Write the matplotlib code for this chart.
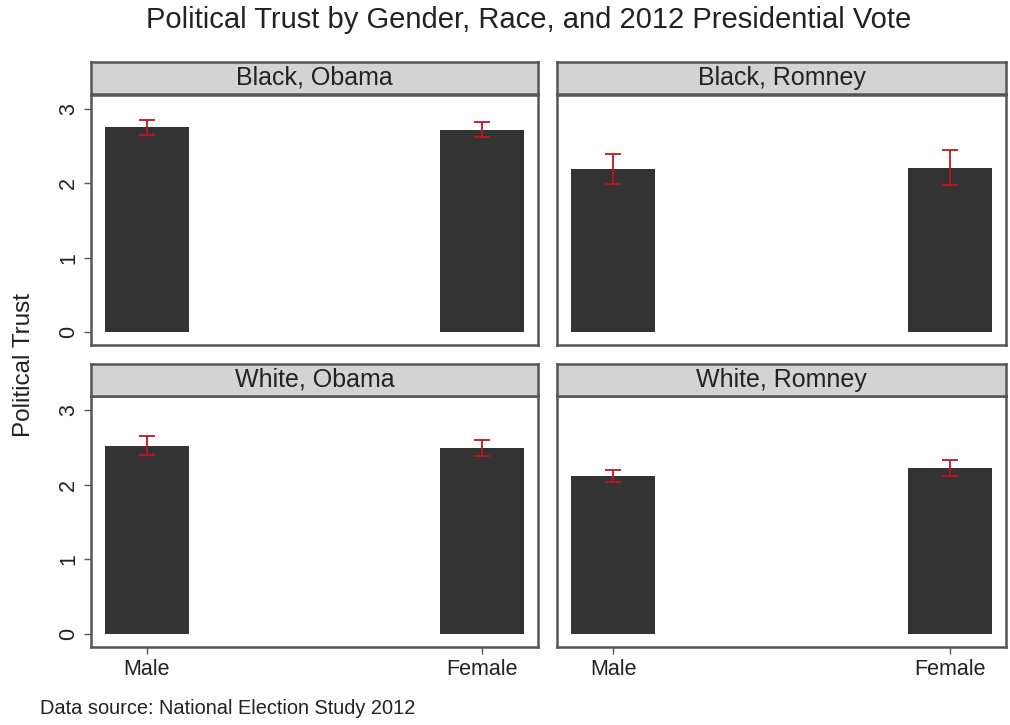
import matplotlib.pyplot as plt

# panel data
panels = ["Black, Obama", "Black, Romney", "White, Obama", "White, Romney"]
genders = ["Male", "Female"]
means = [
	[2.75, 2.72],
	[2.19, 2.21],
	[2.52, 2.49],
	[2.12, 2.22],
]
errs = [
	[0.10, 0.10],
	[0.20, 0.23],
	[0.13, 0.11],
	[0.08, 0.11],
]
yticks = [0, 1, 2, 3]

W, H = 1010, 725
BAR_COLOR = "#333333"
ERR_COLOR = "#c0141e"
FRAME = "#555555"
STRIP = "#d3d3d3"
FONT = "Liberation Sans"

plt.rcParams["font.family"] = FONT


def px_box(x0, y0, x1, y1):
	# pixel box (top-left origin) -> figure fraction rect
	return [x0 / W, 1 - y1 / H, (x1 - x0) / W, (y1 - y0) / H]


fig = plt.figure(figsize = (W / 100, H / 100), dpi = 100)

cols = [(91, 538), (557, 1006)]
rows = [(95, 345), (396, 647)]
strips = [(62, 94), (364, 396)]

for k in range(4):
	i, j = k // 2, k % 2
	x0, x1 = cols[j]
	y0, y1 = rows[i]
	ax = fig.add_axes(px_box(x0, y0, x1, y1))
	ax.bar([1, 2], means[k], width = 0.25, color = BAR_COLOR)
	ax.errorbar([1, 2], means[k], yerr = errs[k], fmt = "none",
		ecolor = ERR_COLOR, elinewidth = 1.3, capsize = 6, capthick = 1.3)
	ax.set_xlim(0.833, 2.167)
	ax.set_ylim(-0.175, 3.185)
	for s in ax.spines.values():
		s.set_color(FRAME)
		s.set_linewidth(1.8)
	ax.tick_params(length = 5, width = 1, direction = "out",
		colors = "#555555", labelcolor = "#222222")
	if i == 1:
		ax.set_xticks([1, 2])
		ax.set_xticklabels(genders, fontsize = 15.5)
	else:
		ax.set_xticks([])
	if j == 0:
		ax.set_yticks(yticks)
		ax.set_yticklabels([str(t) for t in yticks], fontsize = 15.5,
			rotation = 90, va = "center")
	else:
		ax.set_yticks([])

	sy0, sy1 = strips[i]
	sax = fig.add_axes(px_box(x0, sy0, x1, sy1))
	sax.set_facecolor(STRIP)
	sax.set_xticks([])
	sax.set_yticks([])
	for s in sax.spines.values():
		s.set_color(FRAME)
		s.set_linewidth(1.8)
	sax.text(0.5, 0.5, panels[k], ha = "center", va = "center",
		fontsize = 18, color = "#222222", transform = sax.transAxes)

fig.text(529 / W, 1 - 20 / H, "Political Trust by Gender, Race, and 2012 Presidential Vote",
	ha = "center", va = "center", fontsize = 21, color = "#222222")
fig.text(24 / W, 1 - 365 / H, "Political Trust", rotation = 90,
	ha = "center", va = "center", fontsize = 17.5, color = "#222222")
fig.text(40 / W, 1 - 708 / H, "Data source: National Election Study 2012",
	ha = "left", va = "center", fontsize = 14.4, color = "#222222")

plt.savefig("out.png", dpi = 100)
